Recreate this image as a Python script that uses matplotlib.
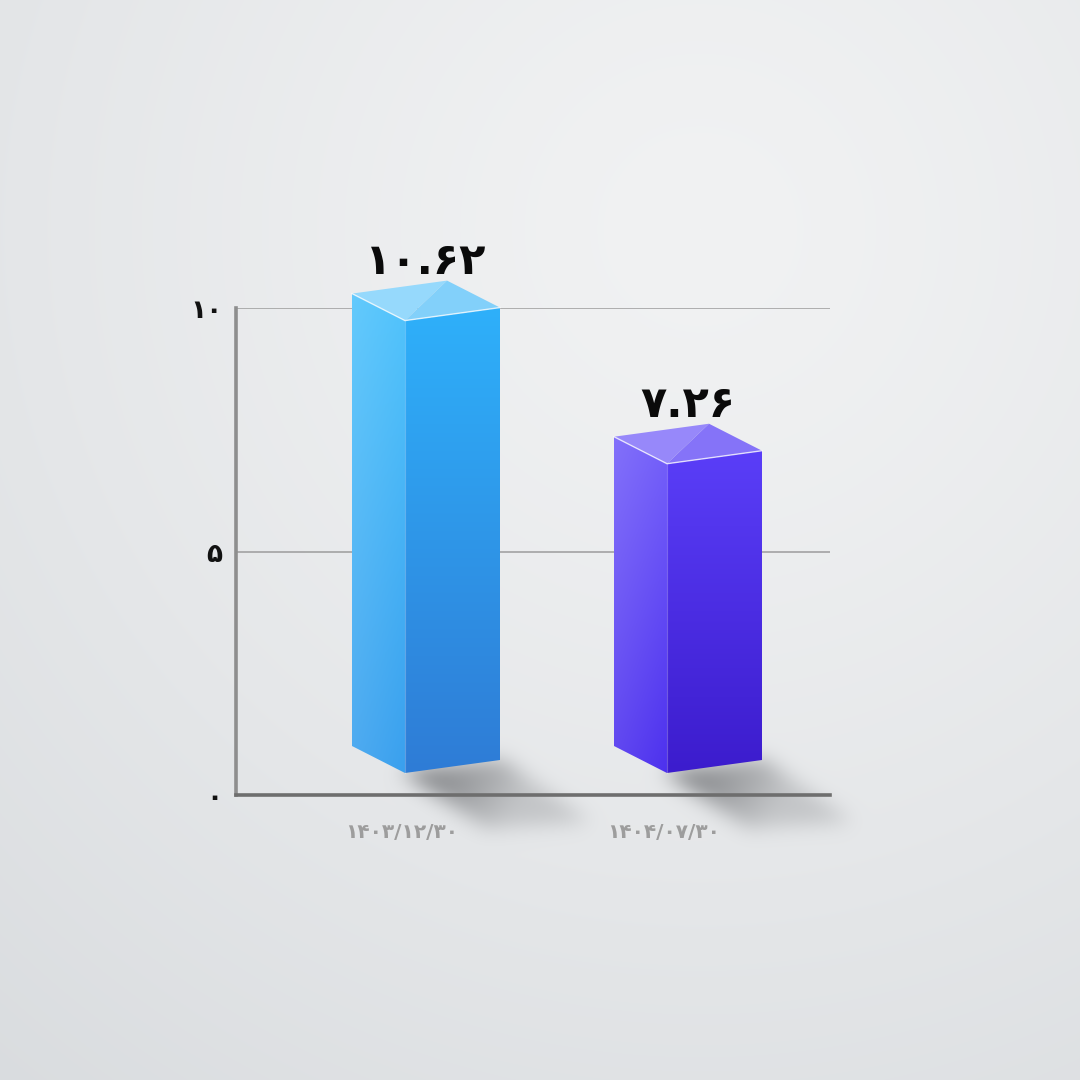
import numpy as np
import matplotlib
matplotlib.use("Agg")
import matplotlib.pyplot as plt
from matplotlib.patches import Polygon
from matplotlib.path import Path
import matplotlib.colors as mcolors
import matplotlib.transforms as mtrans

# ---------------- data ----------------
categories = ["۱۴۰۳/۱۲/۳۰", "۱۴۰۴/۰۷/۳۰"]
values = [10.62, 7.26]
yticks = [0, 5, 10]

PERSIAN = str.maketrans("0123456789", "۰۱۲۳۴۵۶۷۸۹")
def fa(s):
    return str(s).translate(PERSIAN)

plt.rcParams['font.family'] = ['DejaVu Sans']

# ---------------- layout (pixels) ----------------
W = H = 1080
AX_L, AX_R, AX_T, AX_B = 236, 830, 308, 795
BASE_PX = 773          # front-bottom corner of boxes
SCALE = 42.6           # pixels per unit for box height
LW, RW, LR, RR = 53, 95, 27, 13   # box depth geometry in px
FX0, GAP = 169, 262

face_cols = [
    dict(lt="#52c4fc", lb="#3aa0ee", rt="#2fb0fa", rb="#2e7cd6", t1="#96d9fc", t2="#82d0fa"),
    dict(lt="#7561fa", lb="#4d31ee", rt="#5a3ef8", rb="#3c1ccd", t1="#9788fa", t2="#8573f8"),
]

fig = plt.figure(figsize=(10.8, 10.8), dpi=100)
rect = [AX_L / W, 1 - AX_B / H, (AX_R - AX_L) / W, (AX_B - AX_T) / H]
bg = fig.add_axes([0, 0, 1, 1], zorder=0)
ax = fig.add_axes(rect, zorder=1)
axb = fig.add_axes([0, 0, 1, 1], zorder=2)

XW = AX_R - AX_L

# ---------------- axes with grid ----------------
ax.set_xlim(0, XW)
ax.set_ylim(0, 10)
ax.patch.set_alpha(0)
ax.set_yticks(yticks)
ax.set_yticklabels([fa(t) for t in yticks], fontsize=19, fontweight='bold', color='#111111')
ax.set_xticks([])
ax.tick_params(axis='y', length=0, pad=10)
ax.yaxis.grid(True, color='#9c9c9c', lw=1.1)
ax.set_axisbelow(True)
for s in ['top', 'right']:
    ax.spines[s].set_visible(False)
ax.spines['left'].set_color('#8e8e8e')
ax.spines['left'].set_linewidth(2.6)
ax.spines['bottom'].set_color('#6e6e6e')
ax.spines['bottom'].set_linewidth(2.6)

# ---------------- boxes (full-figure axes, box value units vertically) ----------------
axb.set_xlim(-AX_L, W - AX_L)
axb.set_ylim(-(H - BASE_PX) / SCALE, BASE_PX / SCALE)
axb.axis('off')
ylab = -(AX_B - BASE_PX) / SCALE

def grad_fill(a, verts, c_top, c_bot, side_light=0.0):
    verts = np.asarray(verts)
    x0, x1 = verts[:, 0].min(), verts[:, 0].max()
    y0, y1 = verts[:, 1].min(), verts[:, 1].max()
    ct = np.array(mcolors.to_rgb(c_top))
    cb = np.array(mcolors.to_rgb(c_bot))
    n = 200
    t = np.linspace(0, 1, n)[:, None, None]
    img = ct * (1 - t) + cb * t
    img = np.repeat(img, 40, axis=1)
    if side_light:
        s = np.linspace(side_light, 0, 40)[None, :, None]
        img = img + (1 - img) * s
    poly = Polygon(verts, closed=True, facecolor='none', edgecolor='none', transform=a.transData)
    a.add_patch(poly)
    im = a.imshow(np.clip(img, 0, 1), extent=(x0, x1, y0, y1), origin='upper',
                  aspect='auto', interpolation='bilinear', zorder=3)
    im.set_clip_path(poly)

shadow_quads = []
for i, (cat, v) in enumerate(zip(categories, values)):
    fx = FX0 + i * GAP
    c = face_cols[i]
    lr, rr = LR / SCALE, RR / SCALE
    Fb, Ft = (fx, 0), (fx, v)
    Lb, Lt = (fx - LW, lr), (fx - LW, v + lr)
    Rb, Rt = (fx + RW, rr), (fx + RW, v + rr)
    Kt = (fx - LW + RW, v + lr + rr)
    grad_fill(axb, [Lb, Fb, Ft, Lt], c['lt'], c['lb'], side_light=0.10)
    grad_fill(axb, [Fb, Rb, Rt, Ft], c['rt'], c['rb'])
    axb.add_patch(Polygon([Lt, Ft, Kt], closed=True, fc=c['t1'], ec='none', zorder=4))
    axb.add_patch(Polygon([Kt, Ft, Rt], closed=True, fc=c['t2'], ec='none', zorder=4))
    axb.plot([Lt[0], Ft[0], Rt[0]], [Lt[1], Ft[1], Rt[1]], color='white', alpha=0.75, lw=1.0, zorder=5)
    axb.plot([Ft[0], Fb[0]], [Ft[1], Fb[1]], color='white', alpha=0.25, lw=0.8, zorder=5)
    axb.text((Lt[0] + Rt[0]) / 2, Kt[1], fa(f"{v:.2f}"), ha='center', va='baseline',
             fontsize=31, fontweight='bold', color='#0a0a0a', zorder=6,
             transform=axb.transData + mtrans.ScaledTranslation(0, 7 / 100, fig.dpi_scale_trans))
    axb.text(fx - 3, ylab, cat, ha='center', va='center', fontsize=14.5, fontweight='bold',
             color='#9d9d9d',
             transform=axb.transData + mtrans.ScaledTranslation(0, -38 / 100, fig.dpi_scale_trans))
    shadow_quads.append(axb.transData.transform([Lb, Fb, Rb]))

# ---------------- background with shadows ----------------
yy, xx = np.mgrid[0:H, 0:W].astype(float)   # yy: from bottom (origin lower)
ytop = H - yy
d = np.hypot(xx - 700, ytop - 230)
t = np.clip(d / 1150, 0, 1)
light = np.array(mcolors.to_rgb("#f1f2f3"))
dark = np.array(mcolors.to_rgb("#d8dbde"))
img = light * (1 - t[..., None] ** 1.3) + dark * (t[..., None] ** 1.3)

def blur(a, sigma):
    r = int(3 * sigma)
    k = np.exp(-0.5 * (np.arange(-r, r + 1) / sigma) ** 2)
    k /= k.sum()
    a = np.apply_along_axis(lambda m: np.convolve(m, k, mode='same'), 0, a)
    a = np.apply_along_axis(lambda m: np.convolve(m, k, mode='same'), 1, a)
    return a

shadow_rgb = np.array(mcolors.to_rgb("#4a4c50"))
alpha_total = np.zeros((H, W))
for (Lb, Fb, Rb) in shadow_quads:
    dvec = np.array([90.0, -62.0])
    quad = np.array([Fb + np.array([-4, 1]), Rb + np.array([2, 0]), Rb + dvec, Fb + dvec * 0.9])
    x0, x1 = int(quad[:, 0].min()) - 50, int(quad[:, 0].max()) + 50
    y0, y1 = int(quad[:, 1].min()) - 50, int(quad[:, 1].max()) + 50
    sub_x, sub_y = xx[y0:y1, x0:x1], yy[y0:y1, x0:x1]
    pts = np.column_stack([sub_x.ravel(), sub_y.ravel()])
    m = Path(quad).contains_points(pts).reshape(sub_x.shape).astype(float)
    proj = ((sub_x - Fb[0]) * dvec[0] + (sub_y - Fb[1]) * dvec[1]) / (dvec @ dvec)
    fall = np.clip(1 - 0.7 * np.clip(proj, 0, 1), 0, 1)
    m = blur(m * fall, 10) * 0.75
    alpha_total[y0:y1, x0:x1] = np.maximum(alpha_total[y0:y1, x0:x1], m)

img = img * (1 - alpha_total[..., None]) + shadow_rgb * alpha_total[..., None]
bg.imshow(np.clip(img, 0, 1), origin='lower', extent=(0, W, 0, H), aspect='auto', interpolation='bilinear')
bg.set_xlim(0, W)
bg.set_ylim(0, H)
bg.axis('off')

fig.savefig("out.png", dpi=100)
